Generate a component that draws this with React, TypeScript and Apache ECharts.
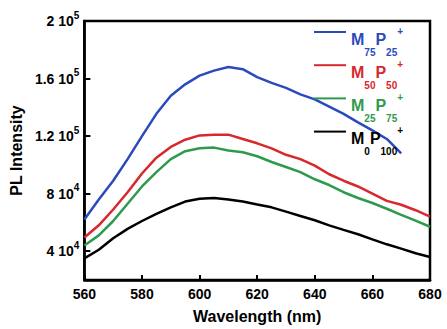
import React, { useEffect, useRef } from "react";
import * as echarts from "echarts";

const wavelengths = [560, 565, 570, 575, 580, 585, 590, 595, 600, 605, 610, 615, 620, 625, 630, 635, 640, 645, 650, 655, 660, 665, 670, 675, 680];

const m75p25 = [62000, 76000, 89000, 104000, 120000, 135500, 148000, 156000, 162000, 165500, 168000, 166500, 161000, 157000, 153500, 149000, 145500, 140500, 135500, 129500, 124000, 118000, 108000, null, null];
const m50p50 = [49500, 58000, 69000, 81000, 94000, 105000, 112500, 117500, 120500, 121000, 121000, 118000, 115000, 111500, 107000, 104000, 99500, 93500, 89000, 85000, 80000, 75000, 72300, 68500, 64000];
const m25p75 = [44000, 51000, 61000, 73000, 85000, 95000, 104000, 109500, 111500, 112000, 110000, 108800, 106000, 102000, 98500, 95000, 90000, 86000, 81000, 77000, 73500, 69500, 65300, 61300, 57000];
const m0p100 = [35000, 41000, 49000, 55500, 61000, 66000, 70500, 74500, 76500, 77000, 76000, 74500, 72500, 70500, 67500, 64500, 61500, 58000, 54800, 51800, 48200, 44800, 41800, 38600, 36000];

const seriesNames = ["M75P25+", "M50P50+", "M25P75+", "M0P100+"];
const subM = ["75", "50", "25", "0"];
const subP = ["25", "50", "75", "100"];
const colors = ["#2b4bbd", "#d8282d", "#2e9a4e", "#000000"];
const seriesValues = [m75p25, m50p50, m25p75, m0p100];

const xTicks = { min: 560, max: 680, interval: 20 };
const yTickValues = [40000, 80000, 120000, 160000, 200000];
const yRange = { min: 20000, max: 200000 };

const FONT = "'Liberation Sans', Arial, sans-serif";

export default function App() {
  const ref = useRef<HTMLDivElement>(null);
  useEffect(() => {
    if (!ref.current) return;
    const chart = echarts.init(ref.current, null, { renderer: "svg" });
    const rich: Record<string, any> = {};
    colors.forEach((c, i) => {
      rich["m" + i] = { color: c, fontSize: 16, fontWeight: "bold", fontFamily: FONT, lineHeight: 14, padding: [14, 0, 0, 0] };
      rich["s" + i] = { color: c, fontSize: 10, fontWeight: "bold", fontFamily: FONT, lineHeight: 14, padding: [40, 0, 0, 0] };
      rich["p" + i] = { color: c, fontSize: 10, fontWeight: "bold", fontFamily: FONT, lineHeight: 14, padding: [0, 0, 2, 0] };
    });
    chart.setOption({
      animation: false,
      grid: { left: 83, right: 17, top: 21, bottom: 44, show: true, borderColor: "#000", borderWidth: 2.5 },
      legend: {
        orient: "vertical",
        left: 314,
        top: 7,
        itemWidth: 32,
        itemHeight: 14,
        itemGap: -16.8,
        padding: 0,
        icon: "path://M0,6L32,6L32,8L0,8Z",
        data: seriesNames,
        textStyle: { fontFamily: FONT, fontWeight: "bold", fontSize: 16, lineHeight: 14, rich },
        formatter: (name: string) => {
          const i = seriesNames.indexOf(name);
          return `{m${i}|M}{s${i}|${subM[i]}}{m${i}|P}{s${i}|${subP[i]}}{p${i}|+}`;
        },
      },
      xAxis: {
        type: "value",
        min: xTicks.min,
        max: xTicks.max,
        interval: xTicks.interval,
        name: "Wavelength (nm)",
        nameLocation: "middle",
        nameGap: 28,
        nameTextStyle: { fontFamily: FONT, fontWeight: "bold", fontSize: 16, color: "#000" },
        axisLine: { lineStyle: { color: "#000", width: 2.5 } },
        axisTick: { inside: true, length: 5, lineStyle: { color: "#000", width: 2 } },
        axisLabel: { fontFamily: FONT, fontWeight: "bold", fontSize: 14, color: "#000", margin: 7 },
        splitLine: { show: false },
      },
      yAxis: {
        type: "value",
        min: yRange.min,
        max: yRange.max,
        name: "PL Intensity",
        nameLocation: "middle",
        nameGap: 52,
        nameTextStyle: { fontFamily: FONT, fontWeight: "bold", fontSize: 16, color: "#000" },
        axisLine: { lineStyle: { color: "#000", width: 2.5 } },
        axisTick: { inside: true, length: 6, lineStyle: { color: "#000", width: 2 }, customValues: yTickValues },
        axisLabel: {
          customValues: yTickValues,
          fontFamily: FONT,
          fontWeight: "bold",
          fontSize: 14,
          color: "#000",
          margin: 5,
          formatter: (v: number) => {
            const e = Math.floor(Math.log10(v) + 1e-9);
            const m = Math.round((v / Math.pow(10, e)) * 10) / 10;
            return `${m} 10{sup|${e}}`;
          },
          rich: { sup: { fontFamily: FONT, fontWeight: "bold", fontSize: 10, color: "#000", padding: [0, 0, 12, 0] } },
        },
        splitLine: { show: false },
      },
      series: seriesNames.map((n, i) => ({
        name: n,
        type: "line",
        showSymbol: false,
        symbol: "none",
        lineStyle: { color: colors[i], width: 2.5 },
        itemStyle: { color: colors[i] },
        data: wavelengths.map((w, j) => [w, seriesValues[i][j]]).filter((d) => d[1] !== null),
      })),
    });
    return () => chart.dispose();
  }, []);
  return <div ref={ref} style={{ width: 447, height: 329, position: "absolute", left: 0, top: 0 }} />;
}
